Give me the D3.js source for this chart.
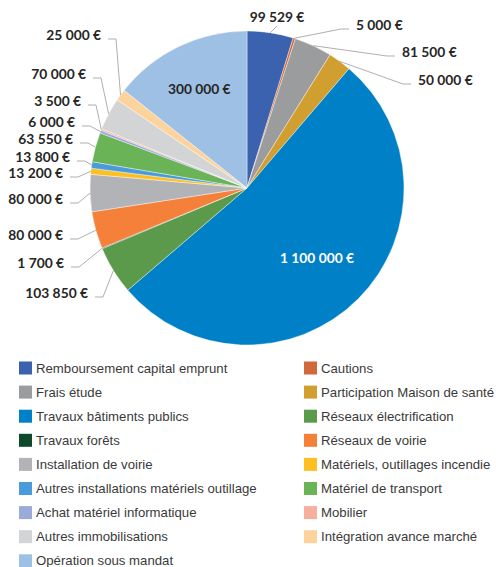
<!DOCTYPE html>
<html>
<head>
<meta charset="utf-8">
<script src="https://cdn.jsdelivr.net/npm/d3@7"></script>
<style>
  body { margin: 0; background: #fff; }
  svg { display: block; }
</style>
</head>
<body>
<div id="chart"></div>
<script>
// data, clockwise from 12 o'clock
var categories = [
  "Remboursement capital emprunt", "Cautions", "Frais étude",
  "Participation Maison de santé", "Travaux bâtiments publics",
  "Réseaux électrification", "Travaux forêts", "Réseaux de voirie",
  "Installation de voirie", "Matériels, outillages incendie",
  "Autres installations matériels outillage", "Matériel de transport",
  "Achat matériel informatique", "Mobilier", "Autres immobilisations",
  "Intégration avance marché", "Opération sous mandat"
];
var values = [99529, 5000, 81500, 50000, 1100000, 103850, 1700, 80000,
  80000, 13200, 13800, 63550, 6000, 3500, 70000, 25000, 300000];

var colors = ["#3a62ae", "#d0693a", "#9b9c9e", "#d19f2f", "#0080c6",
  "#5a9a4a", "#0d4a2c", "#f4803a", "#b2b3b6", "#fdbf22", "#4a9bdb",
  "#6ab356", "#9aabd8", "#f7b09e", "#d3d4d6", "#fdd39c", "#9fc0e5"];

// label placement (text anchor point), same order as the data
var labelPos = [
  {x: 277, y: 17, a: "middle"},
  {x: 356, y: 25, a: "start"},
  {x: 402, y: 52, a: "start"},
  {x: 418, y: 80, a: "start"},
  {r: 0.63},
  {x: 88, y: 293, a: "end"},
  {x: 64, y: 263, a: "end"},
  {x: 63, y: 235, a: "end"},
  {x: 63, y: 199, a: "end"},
  {x: 63, y: 173, a: "end"},
  {x: 70, y: 157, a: "end"},
  {x: 73, y: 139, a: "end"},
  {x: 75, y: 122, a: "end"},
  {x: 81, y: 101, a: "end"},
  {x: 86, y: 74, a: "end"},
  {x: 101, y: 35, a: "end"},
  {r: 0.7}
];

var width = 496, height = 567;
var cx = 247, cy = 188, R = 157;

var fr = d3.formatLocale({decimal: ",", thousands: "\u00a0", grouping: [3], currency: ["", "\u00a0€"]});
var fmt = fr.format("$,.0f");

var svg = d3.select('#chart').append('svg')
  .attr('width', width).attr('height', height);

var data = categories.map(function (c, i) { return {name: c, value: values[i], i: i}; });

var pie = d3.pie().sort(null).value(function (d) { return d.value; });
var arcs = pie(data);
var arc = d3.arc().innerRadius(0).outerRadius(R);
var edge = d3.arc().innerRadius(R).outerRadius(R);

var g = svg.append('g').attr('transform', 'translate(' + cx + ',' + cy + ')');

g.selectAll('path.slice')
  .data(arcs)
  .enter().append('path')
  .attr('class', 'slice')
  .attr('d', arc)
  .attr('fill', function (d) { return colors[d.data.i]; })
  .attr('stroke', '#fff')
  .attr('stroke-width', 0.4);

// leader lines
var outside = arcs.filter(function (d) { return labelPos[d.data.i].x !== undefined; });

svg.selectAll('polyline.leader')
  .data(outside)
  .enter().append('polyline')
  .attr('class', 'leader')
  .attr('fill', 'none')
  .attr('stroke', '#a6a6a6')
  .attr('stroke-width', 0.9)
  .attr('points', function (d) {
    var p = labelPos[d.data.i];
    var c = edge.centroid(d);
    var px = cx + c[0], py = cy + c[1];
    if (p.a === "middle") return [[px, py], [p.x, p.y + 9]].join(' ');
    var dir = p.a === "start" ? -1 : 1;
    var ex = p.x + dir * 7, ey = p.y + 4;
    return [[px, py], [ex + dir * 8, ey], [ex, ey]].join(' ');
  });

svg.selectAll('text.lab')
  .data(outside)
  .enter().append('text')
  .attr('class', 'lab')
  .attr('x', function (d) { return labelPos[d.data.i].x; })
  .attr('y', function (d) { return labelPos[d.data.i].y; })
  .attr('dy', '0.35em')
  .attr('text-anchor', function (d) { return labelPos[d.data.i].a; })
  .attr('font-family', 'Lato, sans-serif')
  .attr('font-weight', 'bold')
  .attr('font-size', '13.8px')
  .attr('fill', '#262626')
  .text(function (d) { return fmt(d.data.value); });

// labels inside the two big slices
var inside = arcs.filter(function (d) { return labelPos[d.data.i].r !== undefined; });
g.selectAll('text.inlab')
  .data(inside)
  .enter().append('text')
  .attr('class', 'inlab')
  .attr('transform', function (d) {
    var rr = labelPos[d.data.i].r * R;
    var c = d3.arc().innerRadius(rr).outerRadius(rr).centroid(d);
    return 'translate(' + c + ')';
  })
  .attr('dy', '0.35em')
  .attr('text-anchor', 'middle')
  .attr('font-family', 'Lato, sans-serif')
  .attr('font-weight', 'bold')
  .attr('font-size', '13.8px')
  .attr('fill', function (d) { return d.data.value > 500000 ? '#fff' : '#262626'; })
  .text(function (d) { return fmt(d.data.value); });

// legend, two columns
var legend = svg.append('g');
var item = legend.selectAll('g.item')
  .data(data)
  .enter().append('g')
  .attr('class', 'item')
  .attr('transform', function (d) {
    var col = d.i % 2, row = Math.floor(d.i / 2);
    return 'translate(' + (col ? 304 : 19) + ',' + (368 + row * 24.1) + ')';
  });

item.append('rect')
  .attr('x', 0).attr('y', -6.5)
  .attr('width', 13).attr('height', 13)
  .attr('fill', function (d) { return colors[d.i]; });

item.append('text')
  .attr('x', 17)
  .attr('dy', '0.35em')
  .attr('font-family', '"Liberation Sans", Arial, sans-serif')
  .attr('font-size', '13.2px')
  .attr('fill', '#3a3a3a')
  .text(function (d) { return d.name; });
</script>
</body>
</html>
